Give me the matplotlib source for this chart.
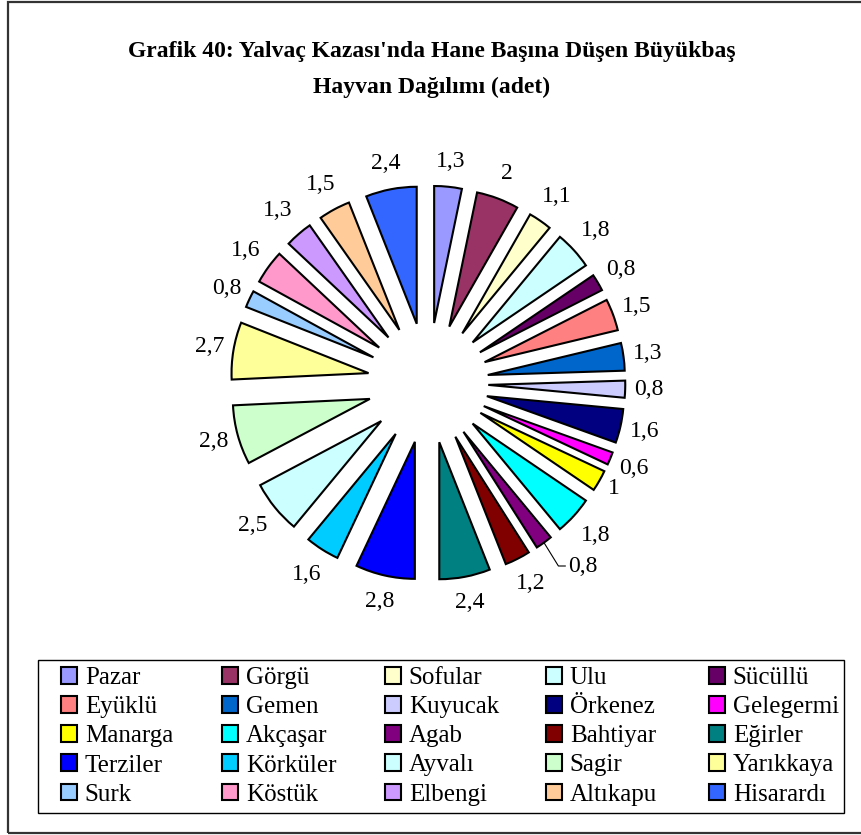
"""Grafik 40: Yalvaç Kazası'nda hane başına düşen büyükbaş hayvan (adet), pasta ayrık dilimli."""

import matplotlib
matplotlib.use("Agg")
import matplotlib.pyplot as plt
import numpy as np
from matplotlib.patches import Patch, Rectangle
from matplotlib.lines import Line2D

SERIF = ["Liberation Serif", "DejaVu Serif"]

KOYLER = [
    "Pazar", "Görgü", "Sofular", "Ulu", "Sücüllü",
    "Eyüklü", "Gemen", "Kuyucak", "Örkenez", "Gelegermi",
    "Manarga", "Akçaşar", "Agab", "Bahtiyar", "Eğirler",
    "Terziler", "Körküler", "Ayvalı", "Sagir", "Yarıkkaya",
    "Surk", "Köstük", "Elbengi", "Altıkapu", "Hisarardı",
]
DEGERLER = [
    1.3, 2, 1.1, 1.8, 0.8,
    1.5, 1.3, 0.8, 1.6, 0.6,
    1, 1.8, 0.8, 1.2, 2.4,
    2.8, 1.6, 2.5, 2.8, 2.7,
    0.8, 1.6, 1.3, 1.5, 2.4,
]
RENKLER = [
    "#9999FF", "#993366", "#FFFFCC", "#CCFFFF", "#660066",
    "#FF8080", "#0066CC", "#CCCCFF", "#000080", "#FF00FF",
    "#FFFF00", "#00FFFF", "#800080", "#800000", "#008080",
    "#0000FF", "#00CCFF", "#CCFFFF", "#CCFFCC", "#FFFF99",
    "#99CCFF", "#FF99CC", "#CC99FF", "#FFCC99", "#3366FF",
]

W, H = 862, 835
CX, CY = 428, 383      # pasta merkezi (px)
R_PX = 137             # dilim yarıçapı (px)
FS_ETIKET = 17


def rotulo(v):
    return f"{v:g}".replace(".", ",")


fig = plt.figure(figsize=(W / 100, H / 100), dpi=100)

# dış çerçeve
fig.add_artist(Rectangle((8 / W, 2 / H), 1.0, 831 / H, transform=fig.transFigure,
                         fill=False, edgecolor="#333333", linewidth=1.6))

fig.text(432 / W, 1 - 52 / H, "Grafik 40: Yalvaç Kazası'nda Hane Başına Düşen Büyükbaş",
         ha="center", va="center", fontsize=17, fontweight="bold", family=SERIF)
fig.text(432 / W, 1 - 87 / H, "Hayvan Dağılımı (adet)",
         ha="center", va="center", fontsize=17, fontweight="bold", family=SERIF)

half = 270
ax = fig.add_axes([(CX - half) / W, (H - CY - half) / H, 2 * half / W, 2 * half / H])
wedges, _ = ax.pie(DEGERLER, colors=RENKLER, explode=[0.44] * len(DEGERLER),
                   startangle=90, counterclock=False, radius=1,
                   wedgeprops=dict(edgecolor="black", linewidth=1.5))
lim = half / R_PX
ax.set_xlim(-lim, lim)
ax.set_ylim(-lim, lim)
ax.axis("off")

renderer = fig.canvas.get_renderer()
for i, (w, v) in enumerate(zip(wedges, DEGERLER)):
    ang = np.deg2rad((w.theta1 + w.theta2) / 2)
    c, s = np.cos(ang), np.sin(ang)
    if KOYLER[i] == "Agab":
        # Excel bu etiketi kılavuz çizgiyle kenara almış
        x0, y0 = 1.44 * c, 1.44 * s
        tx, ty = (568 - CX) / R_PX, -(566 - CY) / R_PX
        ax.add_line(Line2D([x0, tx - 0.07, tx - 0.02], [y0, ty, ty],
                           color="black", linewidth=0.8))
        ax.text(tx, ty, rotulo(v), ha="left", va="center", fontsize=FS_ETIKET, family=SERIF)
        continue
    t = ax.text(0, 0, rotulo(v), ha="center", va="center", fontsize=FS_ETIKET, family=SERIF)
    bb = t.get_window_extent(renderer)
    hw, hh = (bb.width / 2 + 1) / R_PX, (bb.height / 2 + 7) / R_PX
    ext = min(hw / abs(c) if abs(c) > 1e-6 else np.inf,
              hh / abs(s) if abs(s) > 1e-6 else np.inf)
    d = 1.50 + ext
    t.set_position((d * c, d * s))

# lejant kutusu
fig.add_artist(Rectangle((38 / W, (H - 813) / H), 806 / W, 153 / H, transform=fig.transFigure,
                         fill=False, edgecolor="black", linewidth=1.0))

kolon_x = [61, 222, 385, 546, 709]
for k, x in enumerate(kolon_x):
    idx = [k + 5 * r for r in range(5)]
    handles = [Patch(facecolor=RENKLER[j], edgecolor="black", linewidth=1.5) for j in idx]
    fig.legend(handles, [KOYLER[j] for j in idx], loc="upper left",
               bbox_to_anchor=(x / W, 1 - 667 / H), frameon=False,
               borderpad=0, borderaxespad=0, handlelength=0.65, handleheight=0.65,
               handletextpad=0.3, labelspacing=0.28,
               prop=dict(family=SERIF, size=18))

fig.savefig("out.png", dpi=100)
